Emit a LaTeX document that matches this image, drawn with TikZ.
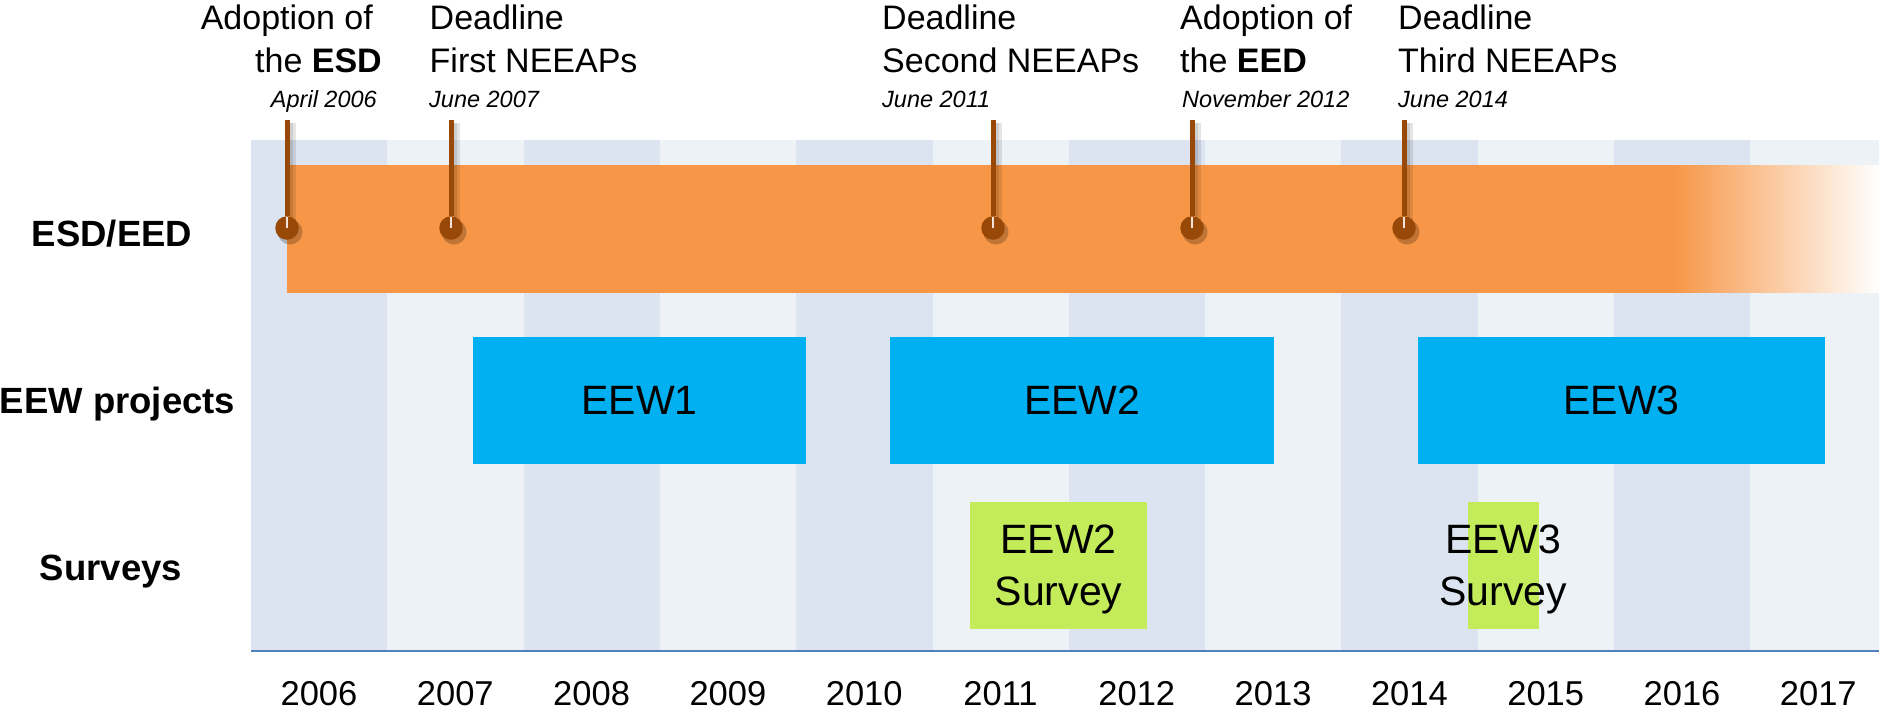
\documentclass[tikz,border=0pt]{standalone}
\usepackage{fontspec}
\setmainfont{Liberation Sans}
\usetikzlibrary{positioning, shadings}
\definecolor{bgdark}{RGB}{219, 228, 240}
\definecolor{bglight}{RGB}{237, 242, 247}
\definecolor{esdorange}{RGB}{247, 150, 70}
\definecolor{eewblue}{RGB}{0, 176, 240}
\definecolor{surveygreen}{RGB}{196, 236, 90}
\definecolor{pinbrown}{RGB}{152, 72, 7}
\definecolor{axisblue}{RGB}{79, 129, 189}

\begin{document}
\begin{tikzpicture}[
  x=1pt, y=-1pt,
  rowlabel/.style={inner sep=0pt, anchor=base,
                   font=\fontsize{36.5}{40}\selectfont\bfseries},
  event/.style={inner sep=0pt, font=\fontsize{34}{43}\selectfont},
  datelabel/.style={inner sep=0pt, font=\fontsize{23.5}{28}\selectfont\itshape},
  yearlabel/.style={inner sep=0pt, anchor=base, font=\fontsize{34.5}{40}\selectfont},
  project/.style={fill=eewblue, inner sep=0pt, minimum height=126.7pt,
                  font=\fontsize{41}{50}\selectfont},
  surveybox/.style={fill=surveygreen, inner sep=0pt, minimum height=126.7pt},
  surveytext/.style={inner sep=0pt, align=center, text depth=0pt,
                     font=\fontsize{41}{52}\selectfont},
  pin/.style={circle, fill=pinbrown, inner sep=0pt, minimum size=23.5pt},
  stem/.style={pinbrown, line width=5pt}
]
  \useasboundingbox (0,0) rectangle (1879,713);

  % year columns
  \foreach \i in {0,2,...,10}
    \fill[bgdark] ({251+136.3*\i},140) rectangle ({251+136.3*(\i+1)},650);
  \foreach \i in {1,3,...,11}
    \fill[bglight] ({251+136.3*\i},140) rectangle ({251+136.3*(\i+1)},650);

  % time axis
  \coordinate (axisstart) at (251,651);
  \coordinate (axisend) at (1879,651);
  \draw[axisblue, line width=2pt] (axisstart) -- (axisend);
  \foreach \yr [count=\i from 0] in {2006,...,2017}
    \node[yearlabel] (y\yr) at ({319+136.3*\i},705) {\yr};

  % row labels
  \node[rowlabel] (rowesd)  at (112,246.7)   {ESD/EED};
  \node[rowlabel] (rowproj) at (117.5,413.3) {EEW projects};
  \node[rowlabel] (rowsurv) at (111,580)     {Surveys};

  % ESD/EED bar, fading out to the right
  \fill[esdorange] (286.7,165) rectangle (1673,292.7);
  \shade[left color=esdorange, right color=white] (1672,165) rectangle (1879,292.7);

  % EEW projects
  \node[project, minimum width=333pt]   (eew1) at (639.5,400.3)  {EEW1};
  \node[project, minimum width=383.5pt] (eew2) at (1082.2,400.3) {EEW2};
  \node[project, minimum width=407pt]   (eew3) at (1621.5,400.3) {EEW3};

  % surveys
  \node[surveybox, minimum width=177pt]  (surv2box) at (1058.5,565.3) {};
  \node[surveybox, minimum width=70.5pt] (surv3box) at (1503.3,565.3) {};
  \node[surveytext] (surv2) at (surv2box) {EEW2\\Survey};
  \node[surveytext] (surv3) at (surv3box) {EEW3\\Survey};

  % milestones
  \foreach \px/\nm in {287/esd, 451/first, 993/second, 1192/eed, 1404/third} {
    \fill[black, opacity=0.10] (\px+2.5,123) rectangle (\px+9,232);
    \fill[black, opacity=0.10] (\px+2.5,123) rectangle (\px+5.5,232);
    \fill[black, opacity=0.22] (\px+3,232) circle (12.5);
    \coordinate (\nm top) at (\px,120);
    \node[pin] (\nm pin) at (\px,228) {};
    \draw[stem] (\nm top) -- (\nm pin.north);
    \draw[white, opacity=0.85, line width=1.2pt] ([yshift=-1pt]\nm pin.north) -- (\nm pin.center);
  }

  \node[event, anchor=base east, align=right] (adoptesd) at (382,72)
    {Adoption of\hspace*{9pt}\\the \textbf{ESD}};
  \node[datelabel, anchor=base east] (adoptesddate) at (377,107) {April 2006};

  \node[event, anchor=base west, align=left] (neeap1) at (429.5,72)
    {Deadline\\First NEEAPs};
  \node[datelabel, anchor=base west] (neeap1date) at (429,107) {June 2007};

  \node[event, anchor=base west, align=left] (neeap2) at (882,72)
    {Deadline\\Second NEEAPs};
  \node[datelabel, anchor=base west] (neeap2date) at (882,107) {June 2011};

  \node[event, anchor=base west, align=left] (adopteed) at (1180,72)
    {Adoption of\\the \textbf{EED}};
  \node[datelabel, anchor=base west] (adopteeddate) at (1182,107) {November 2012};

  \node[event, anchor=base west, align=left] (neeap3) at (1398,72)
    {Deadline\\Third NEEAPs};
  \node[datelabel, anchor=base west] (neeap3date) at (1398,107) {June 2014};
\end{tikzpicture}
\end{document}
